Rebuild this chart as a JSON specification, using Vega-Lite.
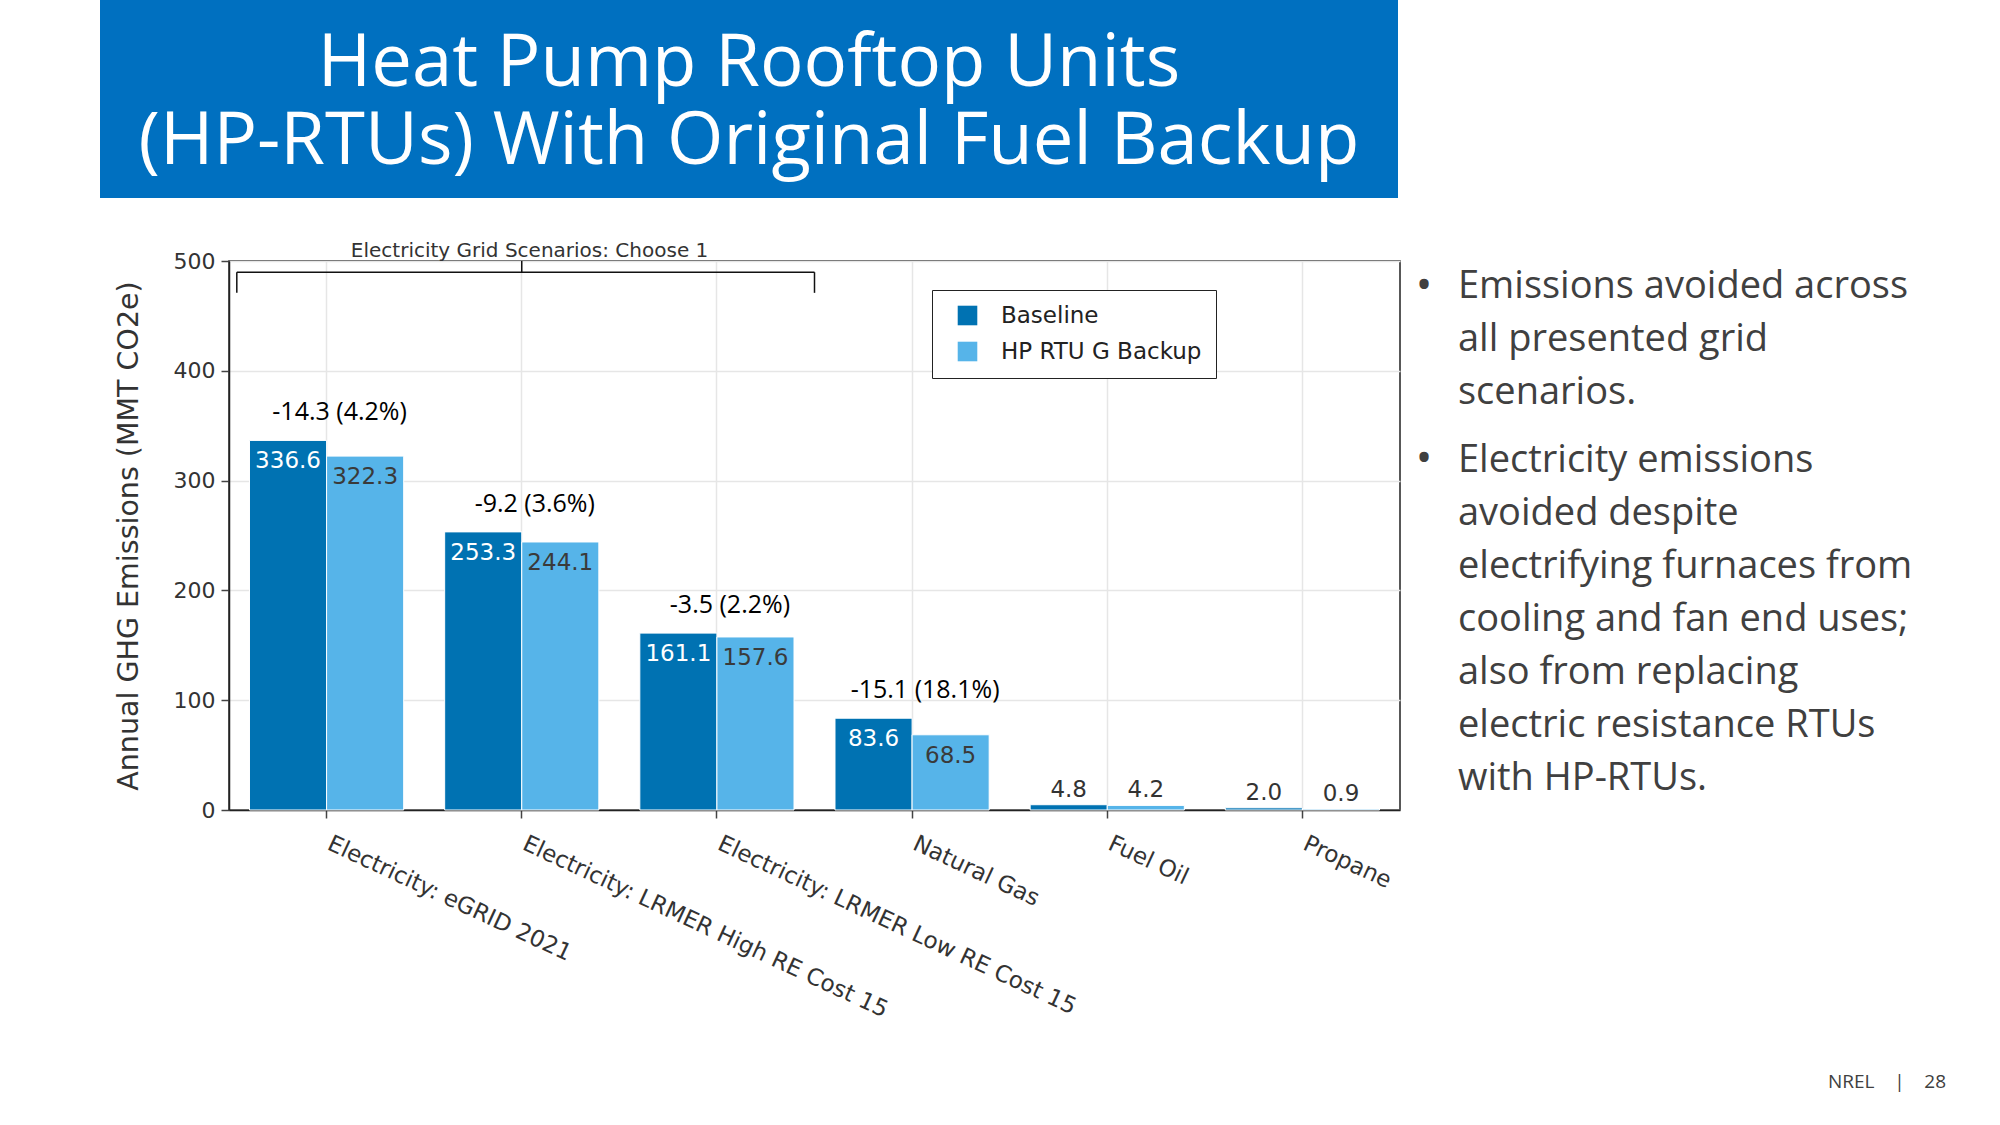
{
  "$schema": "https://vega.github.io/schema/vega-lite/v6.json",
  "padding": {"left": 100, "top": 0, "right": 40, "bottom": 10},
  "background": "white",
  "bounds": "flush",
  "spacing": 63,
  "config": {"view": {"stroke": null}, "font": "DejaVu Sans"},
  "datasets": {
    "bars": [
      {"category": "Electricity: eGRID 2021", "scenario": "Baseline", "value": 336.6},
      {"category": "Electricity: eGRID 2021", "scenario": "HP RTU G Backup", "value": 322.3},
      {"category": "Electricity: LRMER High RE Cost 15", "scenario": "Baseline", "value": 253.3},
      {"category": "Electricity: LRMER High RE Cost 15", "scenario": "HP RTU G Backup", "value": 244.1},
      {"category": "Electricity: LRMER Low RE Cost 15", "scenario": "Baseline", "value": 161.1},
      {"category": "Electricity: LRMER Low RE Cost 15", "scenario": "HP RTU G Backup", "value": 157.6},
      {"category": "Natural Gas", "scenario": "Baseline", "value": 83.6},
      {"category": "Natural Gas", "scenario": "HP RTU G Backup", "value": 68.5},
      {"category": "Fuel Oil", "scenario": "Baseline", "value": 4.8},
      {"category": "Fuel Oil", "scenario": "HP RTU G Backup", "value": 4.2},
      {"category": "Propane", "scenario": "Baseline", "value": 2.0},
      {"category": "Propane", "scenario": "HP RTU G Backup", "value": 0.9}
    ],
    "changes": [
      {"category": "Electricity: eGRID 2021", "label": "-14.3 (4.2%)", "baseline": 336.6},
      {"category": "Electricity: LRMER High RE Cost 15", "label": "-9.2 (3.6%)", "baseline": 253.3},
      {"category": "Electricity: LRMER Low RE Cost 15", "label": "-3.5 (2.2%)", "baseline": 161.1},
      {"category": "Natural Gas", "label": "-15.1 (18.1%)", "baseline": 83.6}
    ],
    "bracket": [
      {"x1": 0.04, "x2": 3.0, "y1": 489.8, "y2": 489.8},
      {"x1": 0.04, "x2": 0.04, "y1": 489.8, "y2": 471},
      {"x1": 3.0, "x2": 3.0, "y1": 489.8, "y2": 471},
      {"x1": 1.5, "x2": 1.5, "y1": 489.8, "y2": 500}
    ],
    "bracketText": [
      {"text": "Electricity Grid Scenarios: Choose 1", "x": 1.54, "y": 500}
    ],
    "bullets": [
      {"b": 1, "lines": ["Emissions avoided across", "all presented grid", "scenarios."]},
      {"b": 2, "lines": ["Electricity emissions", "avoided despite", "electrifying furnaces from", "cooling and fan end uses;", "also from replacing", "electric resistance RTUs", "with HP-RTUs."]}
    ],
    "title": [
      {"line": 1, "text": "Heat Pump Rooftop Units"},
      {"line": 2, "text": "(HP-RTUs) With Original Fuel Backup"}
    ],
    "footer": [
      {"text": "NREL\u00a0\u00a0\u00a0\u00a0|\u00a0\u00a0\u00a0\u00a028"}
    ],
    "blank": [{"text": ""}]
  },
  "vconcat": [
    {
      "width": 1298,
      "height": 198,
      "view": {"fill": "#0070C0", "stroke": null},
      "data": {"name": "title"},
      "mark": {"type": "text", "align": "center", "baseline": "middle", "font": "Open Sans", "fontSize": 72.5, "fill": "white", "dy": 4},
      "encoding": {
        "y": {"field": "line", "type": "ordinal", "scale": {"type": "point", "padding": 0.761}, "axis": null},
        "text": {"field": "text", "type": "nominal"}
      }
    },
    {
      "bounds": "flush",
      "spacing": 811,
      "vconcat": [
        {
          "bounds": "flush",
          "spacing": 0,
          "hconcat": [
            {
              "width": 129,
              "height": 1,
              "data": {"name": "blank"},
              "mark": {"type": "text"},
              "encoding": {"text": {"field": "text", "type": "nominal"}}
            },
            {
              "width": 1171,
              "height": 549,
              "view": {"stroke": "#222", "strokeWidth": 1.5},
              "layer": [
                {
                  "layer": [
                    {
                      "data": {"name": "bars"},
                      "mark": {"type": "bar", "stroke": "white", "strokeWidth": 1},
                      "encoding": {
                        "x": {
                          "field": "category",
                          "type": "nominal",
                          "sort": ["Electricity: eGRID 2021", "Electricity: LRMER High RE Cost 15", "Electricity: LRMER Low RE Cost 15", "Natural Gas", "Fuel Oil", "Propane"],
                          "scale": {"paddingInner": 0.21, "paddingOuter": 0.105},
                          "axis": {
                            "title": null,
                            "labelAngle": 25,
                            "labelAlign": "left",
                            "labelBaseline": "top",
                            "labelFont": "DejaVu Sans",
                            "labelFontSize": 23,
                            "labelColor": "#333",
                            "labelPadding": 14,
                            "labelOffset": 7,
                            "labelLimit": 800,
                            "labelOverlap": false,
                            "tickSize": 8,
                            "tickColor": "#444",
                            "tickWidth": 1.5,
                            "domainColor": "#222",
                            "domainWidth": 1.5,
                            "grid": true,
                            "gridColor": "#e6e6e6",
                            "gridWidth": 1.5,
                            "bandPosition": 0.5
                          }
                        },
                        "xOffset": {"field": "scenario", "type": "nominal", "sort": ["Baseline", "HP RTU G Backup"]},
                        "y": {
                          "field": "value",
                          "type": "quantitative",
                          "scale": {"domain": [0, 500], "nice": false},
                          "axis": {
                            "title": "Annual GHG Emissions (MMT CO2e)",
                            "titleFont": "DejaVu Sans",
                            "titleFontSize": 28.5,
                            "titleFontWeight": "normal",
                            "titleColor": "#333",
                            "titlePadding": 30,
                            "values": [0, 100, 200, 300, 400, 500],
                            "labelFont": "DejaVu Sans",
                            "labelFontSize": 22,
                            "labelColor": "#333",
                            "labelPadding": 6,
                            "tickSize": 8,
                            "tickColor": "#444",
                            "tickWidth": 1.5,
                            "domainColor": "#222",
                            "domainWidth": 1.5,
                            "grid": true,
                            "gridColor": "#e6e6e6",
                            "gridWidth": 1.5
                          }
                        },
                        "color": {
                          "field": "scenario",
                          "type": "nominal",
                          "scale": {"domain": ["Baseline", "HP RTU G Backup"], "range": ["#0072B2", "#56B4E9"]},
                          "legend": {
                            "orient": "none",
                            "legendX": 832,
                            "legendY": 290,
                            "title": null,
                            "fillColor": "white",
                            "strokeColor": "#222",
                            "padding": 14,
                            "cornerRadius": 0,
                            "symbolType": "square",
                            "symbolSize": 384,
                            "symbolStrokeWidth": 0,
                            "symbolOffset": 10,
                            "labelFont": "DejaVu Sans",
                            "labelFontSize": 23,
                            "labelColor": "#222",
                            "labelOffset": 22,
                            "labelLimit": 500,
                            "rowPadding": 12
                          }
                        }
                      }
                    },
                    {
                      "data": {"name": "bars"},
                      "transform": [{"filter": "datum.value >= 10 && datum.scenario == 'Baseline'"}],
                      "mark": {"type": "text", "font": "DejaVu Sans", "fontSize": 23, "fill": "white", "baseline": "alphabetic", "align": "center", "dy": 28},
                      "encoding": {
                        "x": {"field": "category", "type": "nominal", "sort": ["Electricity: eGRID 2021", "Electricity: LRMER High RE Cost 15", "Electricity: LRMER Low RE Cost 15", "Natural Gas", "Fuel Oil", "Propane"]},
                        "xOffset": {"field": "scenario", "type": "nominal", "sort": ["Baseline", "HP RTU G Backup"]},
                        "y": {"field": "value", "type": "quantitative", "scale": {"domain": [0, 500], "nice": false}},
                        "text": {"field": "value", "type": "quantitative", "format": ".1f"}
                      }
                    },
                    {
                      "data": {"name": "bars"},
                      "transform": [{"filter": "datum.value >= 10 && datum.scenario == 'HP RTU G Backup'"}],
                      "mark": {"type": "text", "font": "DejaVu Sans", "fontSize": 23, "fill": "#3a3a3a", "baseline": "alphabetic", "align": "center", "dy": 28},
                      "encoding": {
                        "x": {"field": "category", "type": "nominal", "sort": ["Electricity: eGRID 2021", "Electricity: LRMER High RE Cost 15", "Electricity: LRMER Low RE Cost 15", "Natural Gas", "Fuel Oil", "Propane"]},
                        "xOffset": {"field": "scenario", "type": "nominal", "sort": ["Baseline", "HP RTU G Backup"]},
                        "y": {"field": "value", "type": "quantitative", "scale": {"domain": [0, 500], "nice": false}},
                        "text": {"field": "value", "type": "quantitative", "format": ".1f"}
                      }
                    },
                    {
                      "data": {"name": "bars"},
                      "transform": [{"filter": "datum.value < 10"}],
                      "mark": {"type": "text", "font": "DejaVu Sans", "fontSize": 23, "fill": "#333", "baseline": "alphabetic", "align": "center", "dy": -8},
                      "encoding": {
                        "x": {"field": "category", "type": "nominal", "sort": ["Electricity: eGRID 2021", "Electricity: LRMER High RE Cost 15", "Electricity: LRMER Low RE Cost 15", "Natural Gas", "Fuel Oil", "Propane"]},
                        "xOffset": {"field": "scenario", "type": "nominal", "sort": ["Baseline", "HP RTU G Backup"]},
                        "y": {"field": "value", "type": "quantitative", "scale": {"domain": [0, 500], "nice": false}},
                        "text": {"field": "value", "type": "quantitative", "format": ".1f"}
                      }
                    },
                    {
                      "data": {"name": "changes"},
                      "mark": {"type": "text", "font": "Open Sans", "fontSize": 25, "fill": "black", "baseline": "alphabetic", "align": "center", "dx": 13, "dy": -20},
                      "encoding": {
                        "x": {"field": "category", "type": "nominal", "sort": ["Electricity: eGRID 2021", "Electricity: LRMER High RE Cost 15", "Electricity: LRMER Low RE Cost 15", "Natural Gas", "Fuel Oil", "Propane"]},
                        "y": {"field": "baseline", "type": "quantitative", "scale": {"domain": [0, 500], "nice": false}},
                        "text": {"field": "label", "type": "nominal"}
                      }
                    }
                  ]
                },
                {
                  "data": {"name": "bracket"},
                  "mark": {"type": "rule", "color": "#111", "strokeWidth": 1.5},
                  "encoding": {
                    "x": {"field": "x1", "type": "quantitative", "scale": {"domain": [0, 6], "nice": false, "zero": false}, "axis": null},
                    "x2": {"field": "x2"},
                    "y": {"field": "y1", "type": "quantitative", "scale": {"domain": [0, 500], "nice": false}},
                    "y2": {"field": "y2"}
                  }
                },
                {
                  "data": {"name": "bracketText"},
                  "mark": {"type": "text", "font": "DejaVu Sans", "fontSize": 20, "fill": "#333", "baseline": "alphabetic", "align": "center", "dy": -4},
                  "encoding": {
                    "x": {"field": "x", "type": "quantitative", "scale": {"domain": [0, 6], "nice": false, "zero": false}, "axis": null},
                    "y": {"field": "y", "type": "quantitative", "scale": {"domain": [0, 500], "nice": false}},
                    "text": {"field": "text", "type": "nominal"}
                  }
                }
              ],
              "resolve": {"scale": {"x": "independent"}, "axis": {"x": "independent"}}
            },
            {
              "width": 116,
              "height": 248,
              "data": {"name": "bullets"},
              "layer": [
                {
                  "mark": {"type": "text", "align": "left", "baseline": "alphabetic", "font": "Open Sans", "fontSize": 38, "lineHeight": 53, "fill": "#404040"},
                  "encoding": {
                    "y": {"field": "b", "type": "ordinal", "scale": {"type": "point", "padding": 0.216}, "axis": null},
                    "text": {"field": "lines", "type": "nominal"}
                  }
                },
                {
                  "mark": {"type": "text", "text": "•", "align": "center", "baseline": "alphabetic", "font": "Open Sans", "fontSize": 44, "fill": "#404040", "dx": -34, "dy": 1.5},
                  "encoding": {
                    "y": {"field": "b", "type": "ordinal", "scale": {"type": "point", "padding": 0.216}, "axis": null}
                  }
                }
              ]
            }
          ]
        },
        {
          "bounds": "flush",
          "spacing": 0,
          "hconcat": [
            {
              "width": 1728,
              "height": 1,
              "data": {"name": "blank"},
              "mark": {"type": "text"},
              "encoding": {"text": {"field": "text", "type": "nominal"}}
            },
            {
              "width": 118,
              "height": 20,
              "data": {"name": "footer"},
              "mark": {"type": "text", "align": "center", "baseline": "middle", "font": "Open Sans", "fontSize": 19, "fill": "#404040"},
              "encoding": {"text": {"field": "text", "type": "nominal"}}
            }
          ]
        }
      ]
    }
  ]
}
